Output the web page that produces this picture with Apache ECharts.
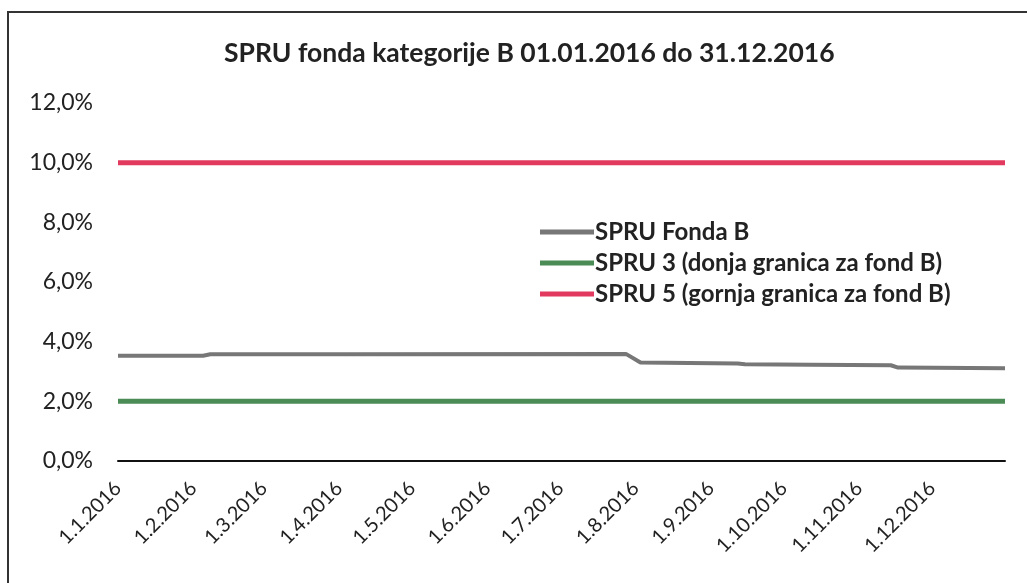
<!DOCTYPE html>
<html>
<head>
<meta charset="utf-8">
<script src="https://cdn.jsdelivr.net/npm/echarts@6/dist/echarts.min.js"></script>
<style>
  html, body { margin: 0; padding: 0; background: #fff; overflow: hidden; }
  #frame {
    position: absolute; left: 7px; top: 11px; width: 1040px; height: 600px;
    border: 2px solid #333; box-sizing: border-box;
  }
  #chart { position: absolute; left: 0; top: 0; width: 1027px; height: 583px; }
</style>
</head>
<body>
<div id="frame"></div>
<div id="chart"></div>
<script>
// SPRU fonda B, očitano s grafa (u %)
const fundDates = ['2016-01-01', '2016-02-05', '2016-02-08', '2016-04-04', '2016-07-28',
  '2016-08-03', '2016-09-12', '2016-09-15', '2016-10-12', '2016-11-14', '2016-11-17', '2016-12-31'];
const fundValues = [3.53, 3.53, 3.58, 3.58, 3.59, 3.30, 3.27, 3.24, 3.23, 3.21, 3.13, 3.11];

// granice
const boundDates = ['2016-01-01', '2016-12-31'];
const spru3Values = [2.0, 2.0];
const spru5Values = [10.0, 10.0];

const seriesNames = ['SPRU Fonda B', 'SPRU 3 (donja granica za fond B)', 'SPRU 5 (gornja granica za fond B)'];

const pair = (dates, vals) => dates.map((d, i) => [d, vals[i]]);

const font = 'Lato, "Open Sans", sans-serif';
const chart = echarts.init(document.getElementById('chart'));

chart.setOption({
  animation: false,
  title: {
    text: 'SPRU fonda kategorije B 01.01.2016 do 31.12.2016',
    left: 219,
    top: 35,
    textStyle: { fontFamily: font, fontSize: 26.5, fontWeight: 'bold', color: '#222' }
  },
  legend: {
    orient: 'vertical',
    left: 535,
    top: 215,
    icon: 'rect',
    itemWidth: 54,
    itemHeight: 5,
    itemGap: 7,
    data: seriesNames,
    textStyle: { fontFamily: font, fontSize: 24, fontWeight: 'bold', color: '#222', padding: [0, 0, 0, -4] }
  },
  grid: { left: 118, right: 22, top: 103, bottom: 122 },
  xAxis: {
    type: 'time',
    min: '2016-01-01',
    max: '2016-12-31',
    splitNumber: 12,
    minInterval: 28 * 86400000,
    maxInterval: 31 * 86400000,
    axisLine: { lineStyle: { color: '#111', width: 2 } },
    axisTick: { show: false },
    splitLine: { show: false },
    axisLabel: {
      rotate: 45,
      margin: 24,
      showMaxLabel: false,
      fontFamily: font,
      fontSize: 20,
      color: '#222',
      formatter: (v) => {
        const d = new Date(v);
        return d.getDate() + '.' + (d.getMonth() + 1) + '.' + d.getFullYear();
      }
    }
  },
  yAxis: {
    type: 'value',
    min: 0,
    max: 12,
    interval: 2,
    axisLine: { show: false },
    axisTick: { show: false },
    splitLine: { show: false },
    axisLabel: {
      margin: 25,
      fontFamily: font,
      fontSize: 23,
      color: '#222',
      formatter: (v) => v.toFixed(1).replace('.', ',') + '%'
    }
  },
  series: [
    {
      name: seriesNames[0],
      type: 'line',
      data: pair(fundDates, fundValues),
      symbol: 'none',
      lineStyle: { color: '#777777', width: 4 },
      itemStyle: { color: '#777777' }
    },
    {
      name: seriesNames[1],
      type: 'line',
      data: pair(boundDates, spru3Values),
      symbol: 'none',
      lineStyle: { color: '#4b8b55', width: 5 },
      itemStyle: { color: '#4b8b55' }
    },
    {
      name: seriesNames[2],
      type: 'line',
      data: pair(boundDates, spru5Values),
      symbol: 'none',
      lineStyle: { color: '#e23a5e', width: 5 },
      itemStyle: { color: '#e23a5e' }
    }
  ]
});

window.addEventListener('resize', () => chart.resize());
</script>
</body>
</html>
